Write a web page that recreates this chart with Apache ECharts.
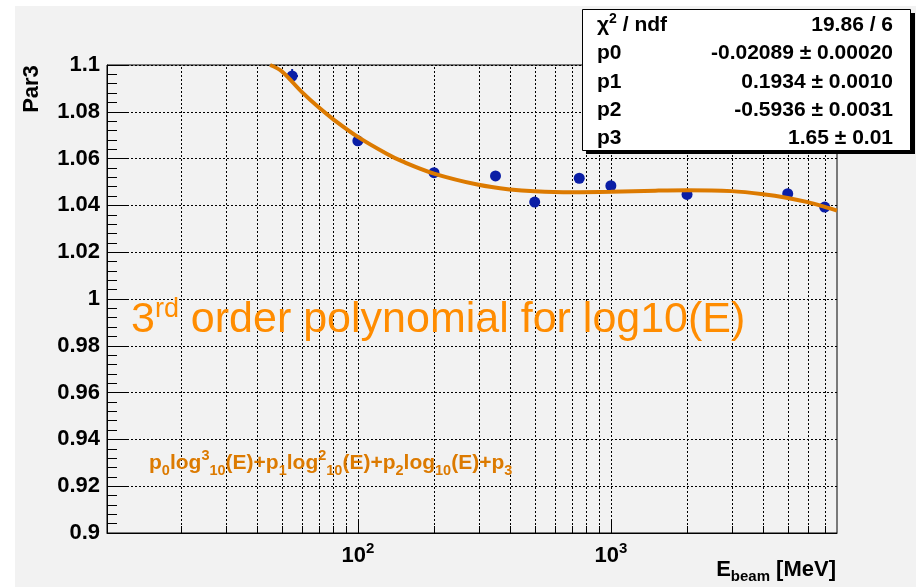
<!DOCTYPE html>
<html><head><meta charset="utf-8">
<script src="https://cdn.jsdelivr.net/npm/echarts@6/dist/echarts.min.js"></script>
<style>html,body{margin:0;padding:0;background:#fff}#c{width:916px;height:587px}</style>
</head><body><div id="c"></div>
<script>
// ---- data ----
const energies = [55, 100, 200, 350, 500, 750, 1000, 2000, 5000, 7000];
const par3     = [1.0953, 1.0676, 1.0540, 1.0526, 1.0414, 1.0516, 1.0484, 1.0447, 1.0450, 1.0393];
const errE     = [3, 0, 0, 0, 0, 0, 0, 0, 0, 0];
const errPar3  = [0.003, 0.001, 0.001, 0.001, 0.001, 0.001, 0.001, 0.001, 0.001, 0.001];
// fitted curve, points
const fitE     = [45, 50, 60, 70, 80, 100, 130, 150, 200, 300, 400, 500, 700, 1000, 1500, 2000, 3000, 4000, 5000, 6000, 7000, 7830];
const fitPar3  = [1.1, 1.0973, 1.0885, 1.0819, 1.0768, 1.0693, 1.0621, 1.0588, 1.0536, 1.0488, 1.0468, 1.0460, 1.0456, 1.0458, 1.0463, 1.0465, 1.0461, 1.0448, 1.0432, 1.0414, 1.0394, 1.0378];
// axis
const xMin = 10.2, xMax = 7830;
const yMin = 0.9, yMax = 1.1, yStep = 0.02;
const xLabelPowers = [2, 3];
const gridE = [20,30,40,50,60,70,80,90,100,200,300,400,500,600,700,800,900,1000,2000,3000,4000,5000,6000,7000];
const minorTickE = [20,30,40,50,60,70,80,90,200,300,400,500,600,700,800,900,2000,3000,4000,5000,6000,7000];
const majorTickE = [100, 1000];
// texts
const yTitle = 'Par3';
const statsNames = ['{n|χ}{sup|2}{n| / ndf}', 'p0', 'p1', 'p2', 'p3'];
const statsValues = ['19.86 / 6', '-0.02089 ± 0.00020', '0.1934 ± 0.0010', '-0.5936 ± 0.0031', '1.65 ± 0.01'];

const FONT = '"Liberation Sans", Arial, Helvetica, sans-serif';
const ORANGE_LINE = '#dc7a00';
const ORANGE_BIG = '#ff8c00';
const BLUE = '#0a1ea6';
const DOTS = [2, 2];

const chart = echarts.init(document.getElementById('c'), null, {renderer: 'canvas'});

function tickSeries(values, len) {
  return {
    type: 'custom', silent: true, z: 1,
    data: values.map(e => [e, yMin]),
    renderItem: (params, api) => {
      const p = api.coord([api.value(0), api.value(1)]);
      const x = Math.round(p[0]) + 0.5;
      return {type: 'line', shape: {x1: x, y1: p[1], x2: x, y2: p[1] - len},
              style: {stroke: '#000', lineWidth: 1}};
    }
  };
}

const statsGraphics = [];
statsGraphics.push({type: 'rect', shape: {x: 586, y: 13, width: 329, height: 141}, style: {fill: '#000'}, z: 20});
statsGraphics.push({type: 'rect', shape: {x: 582.5, y: 9.5, width: 328, height: 141}, style: {fill: '#fff', stroke: '#000', lineWidth: 1}, z: 21});
statsNames.forEach((t, i) => {
  const cy = 25.5 + i * 28.2;
  statsGraphics.push({type: 'text', z: 22, style: {
    text: t, x: 597, y: cy, align: 'left', verticalAlign: 'middle', fill: '#000',
    font: 'bold 21px ' + FONT,
    rich: {n: {font: 'bold 21px ' + FONT, lineHeight: 26}, sup: {font: 'bold 14px ' + FONT, verticalAlign: 'top', lineHeight: 14}}
  }});
  statsGraphics.push({type: 'text', z: 22, style: {
    text: statsValues[i], x: 893, y: cy, align: 'right', verticalAlign: 'middle', fill: '#000',
    font: 'bold 21px ' + FONT
  }});
});

const option = {
  animation: false,
  backgroundColor: '#ffffff',
  grid: {left: 107, top: 65, width: 730, height: 468, show: true, borderColor: '#000', borderWidth: 1, backgroundColor: 'transparent'},
  xAxis: {
    type: 'log', logBase: 10, min: xMin, max: xMax,
    axisLine: {show: true, onZero: false, lineStyle: {color: '#000', width: 1}},
    axisTick: {show: false},
    splitLine: {show: false},
    axisLabel: {
      margin: 8, showMinLabel: true, showMaxLabel: true,
      formatter: v => {
        const k = Math.log10(v), r = Math.round(k);
        return (Math.abs(k - r) < 1e-6 && xLabelPowers.includes(r)) ? '{b|10}{s|' + r + '}' : '';
      },
      rich: {
        b: {fontFamily: FONT, fontWeight: 'bold', fontSize: 22, color: '#000', lineHeight: 30},
        s: {fontFamily: FONT, fontWeight: 'bold', fontSize: 15, color: '#000', verticalAlign: 'top', lineHeight: 16}
      }
    }
  },
  yAxis: {
    type: 'value', min: yMin, max: yMax, interval: yStep,
    axisLine: {show: true, lineStyle: {color: '#000', width: 1}},
    axisTick: {show: true, inside: true, length: 21, lineStyle: {color: '#000', width: 1}},
    minorTick: {show: true, splitNumber: 5, length: 10, lineStyle: {color: '#000', width: 1}},
    splitLine: {show: true, lineStyle: {color: '#000', type: DOTS, width: 1}},
    axisLabel: {
      margin: 7, color: '#000', fontFamily: FONT, fontWeight: 'bold', fontSize: 22,
      formatter: v => String(parseFloat(v.toFixed(2)))
    }
  },
  graphic: [
    {type: 'rect', shape: {x: 15, y: 6, width: 901, height: 581}, style: {fill: '#f2f2f2'}, z: -100, zlevel: 0},
    {type: 'text', x: 32, y: 89, rotation: Math.PI / 2, z: 10,
     style: {text: yTitle, align: 'center', verticalAlign: 'middle', fill: '#000', font: 'bold 22px ' + FONT}},
    {type: 'text', z: 10, style: {
      text: '{b|E}{s|beam}{b| [MeV]}', x: 836, y: 570, align: 'right', verticalAlign: 'middle',
      rich: {b: {font: 'bold 22px ' + FONT, fill: '#000', lineHeight: 28}, s: {font: 'bold 15px ' + FONT, fill: '#000', verticalAlign: 'bottom', lineHeight: 18}}
    }},
    {type: 'text', z: 10, style: {
      text: '{a|3}{s|rd}{a| order polynomial for log10(E)}', x: 131, y: 320, align: 'left', verticalAlign: 'middle',
      rich: {a: {font: '43px ' + FONT, fill: ORANGE_BIG, lineHeight: 48}, s: {font: '27px ' + FONT, fill: ORANGE_BIG, verticalAlign: 'top', lineHeight: 32}}
    }},
    {type: 'text', z: 10, style: {
      text: '{m|p}{d|0}{m|log}{u|3}{d|10}{m|(E)+p}{d|1}{m|log}{u|2}{d|10}{m|(E)+p}{d|2}{m|log}{d|10}{m|(E)+p}{d|3}',
      x: 149, y: 463, align: 'left', verticalAlign: 'middle',
      rich: {
        m: {font: 'bold 21px ' + FONT, fill: ORANGE_LINE, lineHeight: 30},
        d: {font: 'bold 14.5px ' + FONT, fill: ORANGE_LINE, verticalAlign: 'bottom', lineHeight: 14},
        u: {font: 'bold 14.5px ' + FONT, fill: ORANGE_LINE, verticalAlign: 'top', lineHeight: 14}
      }
    }}
  ].concat(statsGraphics),
  series: [
    {
      type: 'custom', silent: true, z: 0,
      data: gridE.map(e => [e, yMin, yMax]),
      renderItem: (params, api) => {
        const b = api.coord([api.value(0), api.value(1)]);
        const t = api.coord([api.value(0), api.value(2)]);
        const x = Math.round(b[0]) + 0.5;
        return {type: 'line', shape: {x1: x, y1: b[1], x2: x, y2: t[1]},
                style: {stroke: '#000', lineWidth: 1, lineDash: DOTS}};
      }
    },
    tickSeries(minorTickE, 7),
    tickSeries(majorTickE, 14),
    {
      type: 'custom', silent: true, z: 3,
      data: energies.map((e, i) => [e, par3[i], errE[i], errPar3[i]]),
      renderItem: (params, api) => {
        const e = api.value(0), y = api.value(1), ex = api.value(2), ey = api.value(3);
        const l = api.coord([e - ex, y]), r = api.coord([e + ex, y]);
        const t = api.coord([e, y + ey]), b = api.coord([e, y - ey]);
        return {type: 'group', children: [
          {type: 'line', shape: {x1: l[0], y1: l[1], x2: r[0], y2: r[1]}, style: {stroke: BLUE, lineWidth: 2}},
          {type: 'line', shape: {x1: t[0], y1: t[1], x2: b[0], y2: b[1]}, style: {stroke: BLUE, lineWidth: 2}}
        ]};
      }
    },
    {
      type: 'scatter', z: 4, symbol: 'circle', symbolSize: 11,
      itemStyle: {color: BLUE, opacity: 1},
      data: energies.map((e, i) => [e, par3[i]])
    },
    {
      type: 'line', z: 5, smooth: 0.35, showSymbol: false, symbol: 'none',
      lineStyle: {color: ORANGE_LINE, width: 4},
      data: fitE.map((e, i) => [e, fitPar3[i]])
    }
  ]
};
chart.setOption(option);
</script>
</body></html>
